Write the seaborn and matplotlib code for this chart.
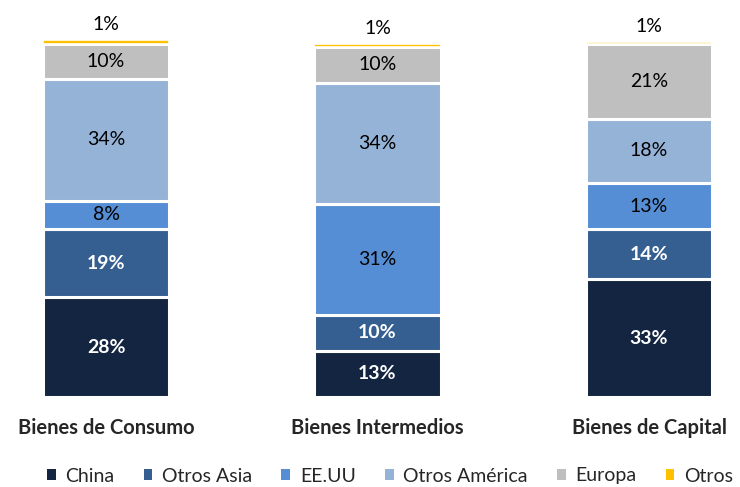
import numpy as np
import pandas as pd
import matplotlib
matplotlib.use("Agg")
import matplotlib.pyplot as plt
import seaborn as sns
from matplotlib.patches import Patch

sns.set_theme(style="white")
plt.rcParams["font.family"] = ["Lato", "DejaVu Sans"]

# Data
categorias = ["Bienes de Consumo", "Bienes Intermedios", "Bienes de Capital"]
series = ["China", "Otros Asia", "EE.UU", "Otros América", "Europa", "Otros"]
china = [28, 13, 33]
otros_asia = [19, 10, 14]
eeuu = [8, 31, 13]
otros_america = [34, 34, 18]
europa = [10, 10, 21]
otros = [1, 1, 0.4]
otros_etiqueta = ["1%", "1%", "1%"]

colores = ["#132540", "#365f91", "#558ed5", "#95b3d7", "#bfbfbf", "#ffc000"]
color_texto = ["white", "white", "black", "black", "black", "black"]
negrita = [True, True, False, False, False, False]

valores = [china, otros_asia, eeuu, otros_america, europa, otros]

fig = plt.figure(figsize=(7.4, 4.87), dpi=100)
ax = fig.add_axes([0, 90 / 487, 1, 387 / 487])

base = np.zeros(len(categorias))
for i, (nombre, vals) in enumerate(zip(series, valores)):
    df = pd.DataFrame({"categoria": categorias, "valor": vals})
    lw = 1.2 if nombre == "Otros" else 2.2
    sns.barplot(data=df, x="categoria", y="valor", color=colores[i], width=0.465,
                bottom=base, edgecolor="white", linewidth=lw, ax=ax,
                saturation=1, errorbar=None)
    if nombre != "Otros":
        for j, v in enumerate(vals):
            ax.text(j, base[j] + v / 2, f"{v}%", ha="center", va="center",
                    color=color_texto[i], fontsize=14,
                    fontweight="bold" if negrita[i] else "normal")
    else:
        for j, v in enumerate(vals):
            ax.annotate(otros_etiqueta[j], (j, base[j] + v), xytext=(0, 5),
                        textcoords="offset points", ha="center", va="bottom",
                        fontsize=14, color="black")
    base = base + np.array(vals)

ax.set_xlim(-106 / 271.5, (740 - 106) / 271.5)
ax.set_ylim(0, 387 / 3.57)
ax.set_xlabel("")
ax.set_ylabel("")
ax.set_yticks([])
ax.tick_params(axis="x", length=0, pad=15)
for lbl in ax.get_xticklabels():
    lbl.set_fontweight("bold")
    lbl.set_fontsize(14.5)
sns.despine(ax=ax, left=True, bottom=True)

handles = [Patch(facecolor=c, edgecolor="none", label=s) for c, s in zip(colores, series)]
fig.legend(handles=handles, loc="center", bbox_to_anchor=(390 / 740, 1 - 476 / 487),
           ncol=6, frameon=False, fontsize=14, handlelength=0.45, handleheight=0.45,
           handletextpad=0.5, columnspacing=1.5)

fig.savefig("out.png", dpi=100)
